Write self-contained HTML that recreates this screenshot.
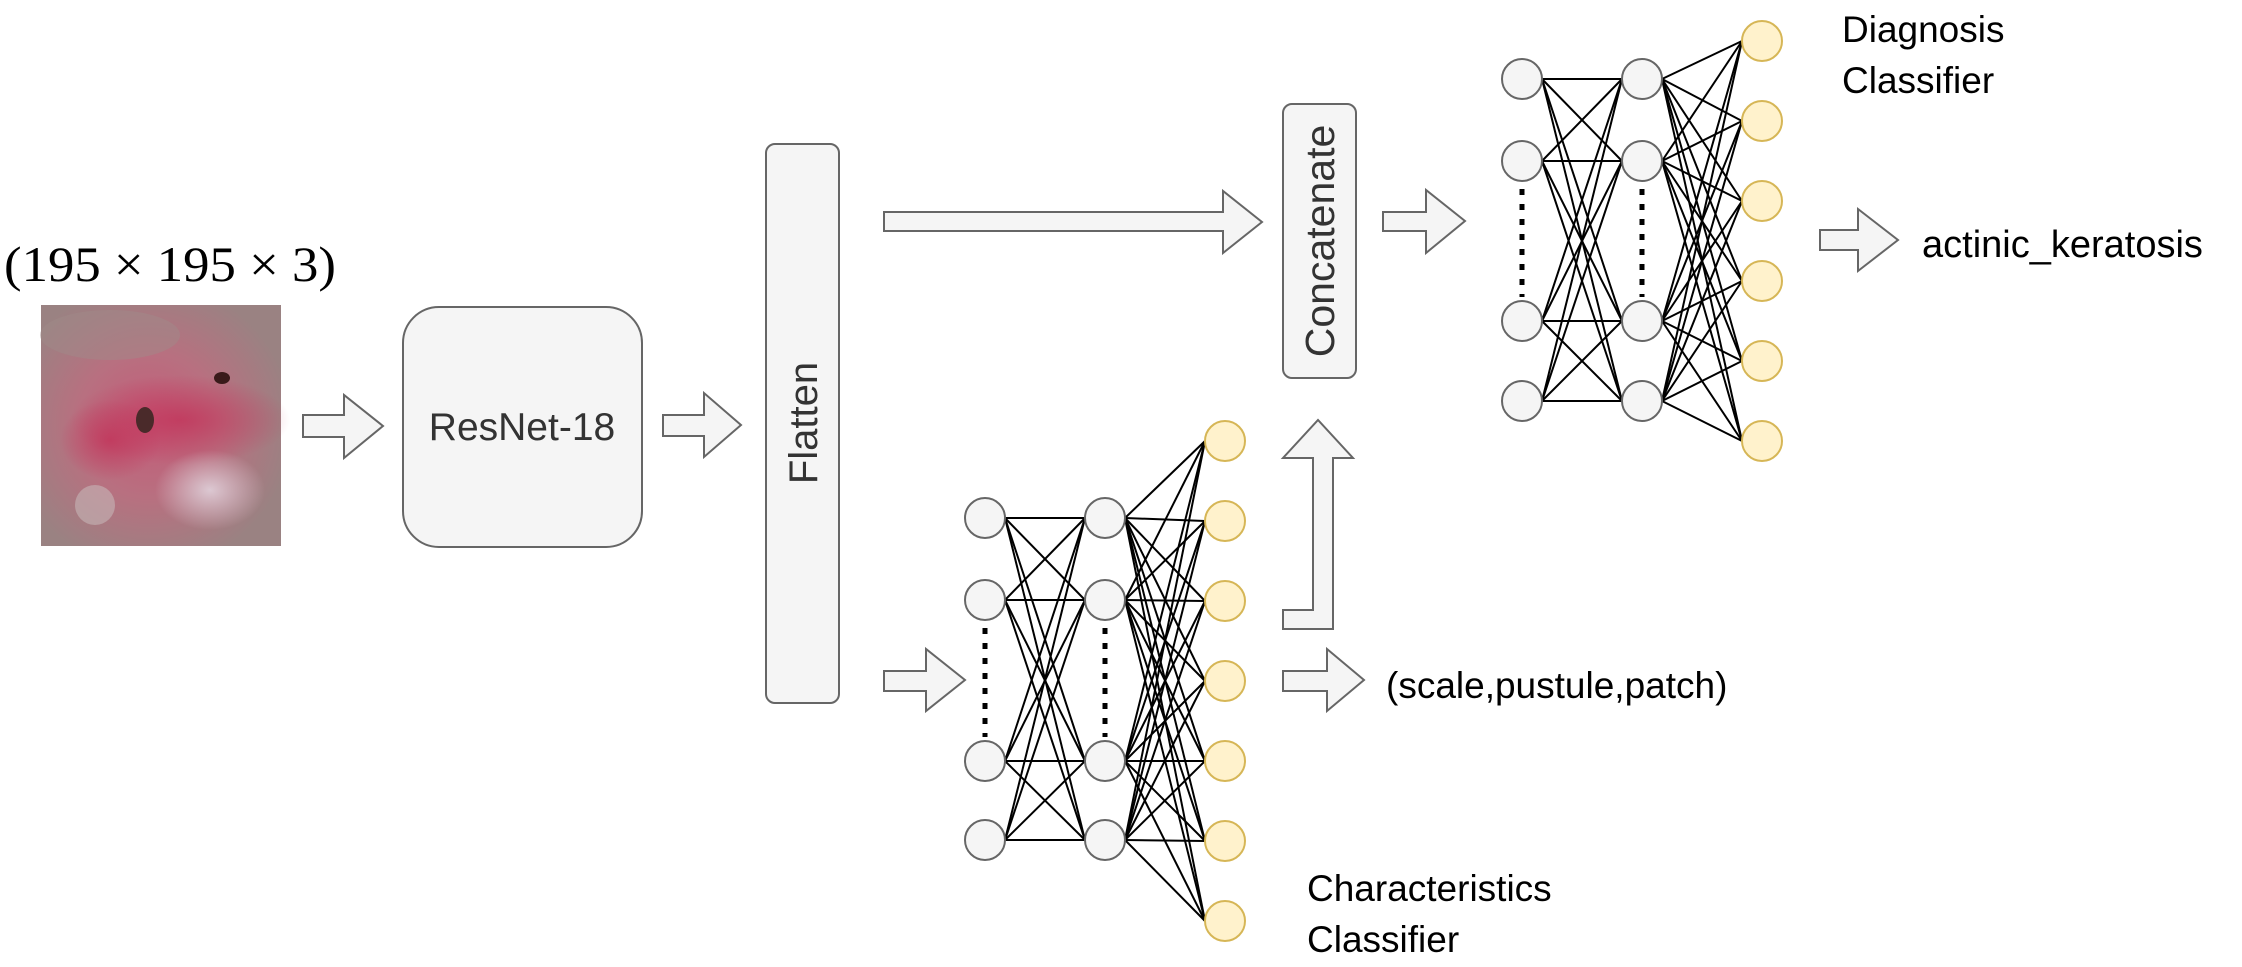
<!DOCTYPE html>
<html><head><meta charset="utf-8"><style>
html,body{margin:0;padding:0;background:#fff;}
svg{display:block;}
text{font-family:"Liberation Sans",sans-serif;fill:#000;}
</style></head><body>
<svg id="s" width="2242" height="967" viewBox="0 0 2242 967" xmlns="http://www.w3.org/2000/svg">
<defs>
<radialGradient id="g1" cx="0.45" cy="0.5" r="0.6">
<stop offset="0" stop-color="#c45a78"/><stop offset="0.5" stop-color="#b87080"/><stop offset="1" stop-color="#9a8282"/>
</radialGradient>
<radialGradient id="g2" cx="0.5" cy="0.5" r="0.5"><stop offset="0" stop-color="#dcc8d2"/><stop offset="1" stop-color="#dcc8d2" stop-opacity="0"/></radialGradient>
<radialGradient id="g3" cx="0.5" cy="0.5" r="0.5"><stop offset="0" stop-color="#c2345a"/><stop offset="1" stop-color="#c2345a" stop-opacity="0"/></radialGradient>
</defs>
<text x="4" y="281" font-size="50" textLength="332" lengthAdjust="spacingAndGlyphs" style="font-family:'Liberation Serif',serif">(195 × 195 × 3)</text>
<rect x="41" y="305" width="240" height="241" fill="url(#g1)"/>
<ellipse cx="110" cy="335" rx="70" ry="25" fill="#a08c8a" opacity="0.45"/>
<ellipse cx="180" cy="420" rx="110" ry="45" fill="url(#g3)" opacity="0.8"/>
<ellipse cx="110" cy="440" rx="50" ry="40" fill="url(#g3)" opacity="0.8"/>
<ellipse cx="210" cy="490" rx="55" ry="40" fill="url(#g2)"/>
<ellipse cx="145" cy="420" rx="9" ry="13" fill="#4a2a2a"/>
<ellipse cx="222" cy="378" rx="8" ry="6" fill="#3a1a1a"/>
<circle cx="95" cy="505" r="20" fill="#c8bcbc" opacity="0.55"/>
<g fill="#f5f5f5" stroke="#666" stroke-width="2">
<path d="M303 415 H344 V395 L383 426 L344 458 V437 H303 Z"/>
<rect x="403" y="307" width="239" height="240" rx="36"/>
<path d="M663 415 H704 V393 L741 425 L704 457 V436 H663 Z"/>
<rect x="766" y="144" width="73" height="559" rx="9"/>
<path d="M884 212 H1223 V191 L1262 222 L1223 253 V231 H884 Z"/>
<rect x="1283" y="104" width="73" height="274" rx="9"/>
<path d="M1383 212 H1426 V190 L1465 221 L1426 253 V231 H1383 Z"/>
<path d="M1820 230 H1858 V209 L1898 240 L1858 271 V250 H1820 Z"/>
<path d="M1283 629 V610 H1313 V458 H1283 L1318 420 L1353 458 H1333 V629 Z"/>
<path d="M1283 671 H1327 V649 L1364 680 L1327 711 V691 H1283 Z"/>
<path d="M884 671 H926 V649 L965 680 L926 711 V691 H884 Z"/>
</g>
<text x="522" y="440" font-size="39" text-anchor="middle" style="fill:#333">ResNet-18</text>
<text transform="translate(817,423) rotate(-90)" font-size="40" text-anchor="middle" style="fill:#333">Flatten</text>
<text transform="translate(1334,241) rotate(-90)" font-size="41" text-anchor="middle" style="fill:#333">Concatenate</text>
<text x="1386" y="698" font-size="37">(scale,pustule,patch)</text>
<text x="1922" y="257" font-size="38">actinic_keratosis</text>
<text x="1842" y="42" font-size="37">Diagnosis</text>
<text x="1842" y="93" font-size="37">Classifier</text>
<text x="1307" y="901" font-size="37">Characteristics</text>
<text x="1307" y="952" font-size="37">Classifier</text>
<g id="lines" stroke="#000" stroke-width="2"></g>
<g id="nodes"></g>
</svg>
<script>
var ns="http://www.w3.org/2000/svg",L=document.getElementById("lines"),N=document.getElementById("nodes");
function line(a,b,c,d){var e=document.createElementNS(ns,"line");e.setAttribute("x1",a);e.setAttribute("y1",b);e.setAttribute("x2",c);e.setAttribute("y2",d);L.appendChild(e);}
function circ(x,y,f,s){var e=document.createElementNS(ns,"circle");e.setAttribute("cx",x);e.setAttribute("cy",y);e.setAttribute("r",20);e.setAttribute("fill",f);e.setAttribute("stroke",s);e.setAttribute("stroke-width",2);N.appendChild(e);}
function dots(x,y1,y2){var e=document.createElementNS(ns,"line");e.setAttribute("x1",x);e.setAttribute("x2",x);e.setAttribute("y1",y1);e.setAttribute("y2",y2);e.setAttribute("stroke","#000");e.setAttribute("stroke-width",5);e.setAttribute("stroke-dasharray","6 9");N.appendChild(e);}
function net(c1,c2,co,rows,outs){
 rows.forEach(function(a){rows.forEach(function(b){line(c1+20,a,c2-20,b);});});
 rows.forEach(function(a){outs.forEach(function(b){line(c2+20,a,co-20,b);});});
 rows.forEach(function(y){circ(c1,y,"#f5f5f5","#666");circ(c2,y,"#f5f5f5","#666");});
 outs.forEach(function(y){circ(co,y,"#fff2cc","#d6b656");});
 dots(c1,rows[1]+28,rows[2]-24);dots(c2,rows[1]+28,rows[2]-24);
}
net(1522,1642,1762,[79,161,321,401],[41,121,201,281,361,441]);
net(985,1105,1225,[518,600,761,840],[441,521,601,681,761,841,921]);
</script>
</body></html>
